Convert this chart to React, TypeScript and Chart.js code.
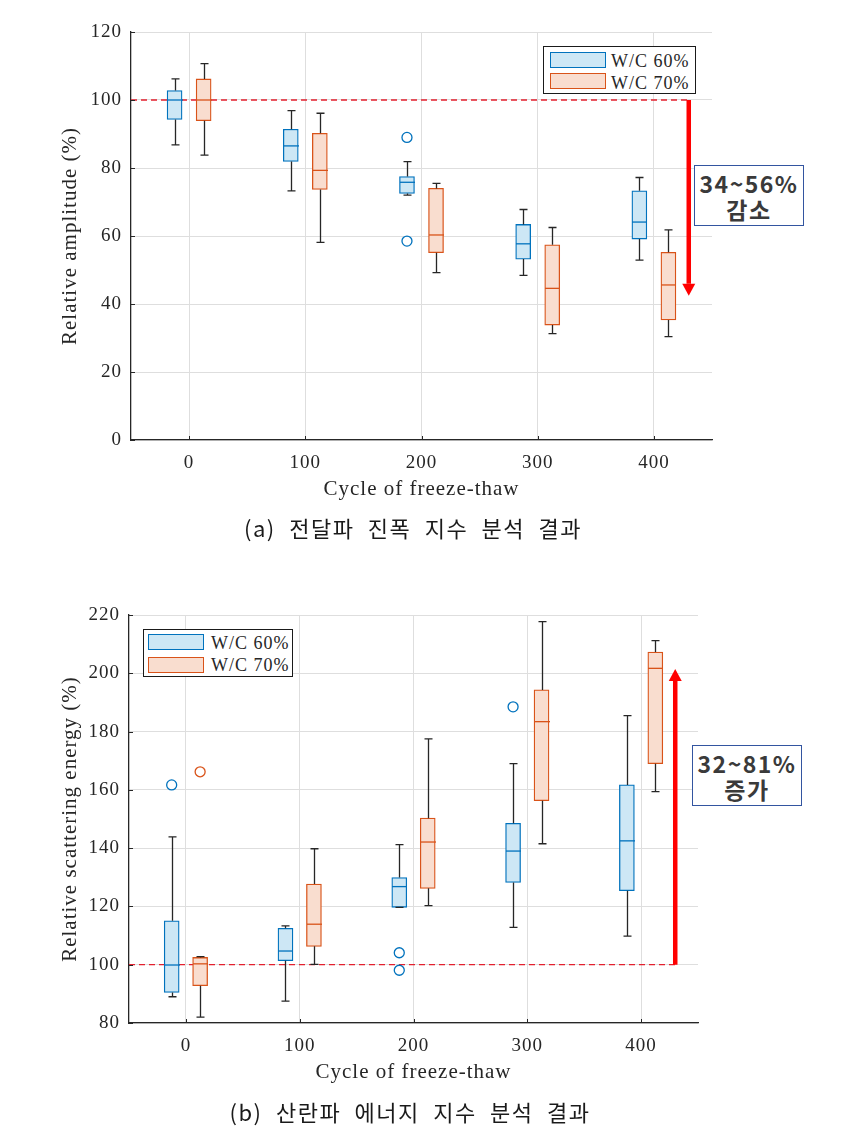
import React, { useEffect, useRef } from "react";
import { Chart, registerables } from "chart.js";

Chart.register(...registerables);
Chart.defaults.font.family = '"Liberation Serif", "Times New Roman", serif';
Chart.defaults.color = "#262626";

// ---------- shared ----------
const cycles = [0, 100, 200, 300, 400];
const xTicks = [0, 100, 200, 300, 400];
const seriesLabels = ["W/C 60%", "W/C 70%"];
const seriesOffsets = [-12.5, 12.5];
const refValue = 100;
const refLineX = [-50, 430];
const arrowX = 430;
const xTitle = "Cycle of freeze-thaw";

// ---------- (a) relative amplitude ----------
const ampYTicks = [0, 20, 40, 60, 80, 100, 120];
const amp60Min = [86.8, 73.3, 72.0, 48.4, 52.9];
const amp60Q1 = [94.3, 81.9, 72.5, 53.2, 59.1];
const amp60Med = [100.0, 86.5, 75.8, 57.7, 64.1];
const amp60Q3 = [102.8, 91.4, 77.5, 63.4, 73.3];
const amp60Max = [106.2, 96.9, 81.9, 67.8, 77.2];
const amp60Outliers = [[], [], [89.0, 58.5], [], []];
const amp70Min = [83.8, 58.1, 49.2, 31.3, 30.4];
const amp70Q1 = [93.9, 73.7, 55.1, 33.8, 35.3];
const amp70Med = [100.0, 79.3, 60.3, 44.6, 45.6];
const amp70Q3 = [106.2, 90.2, 74.0, 57.4, 55.2];
const amp70Max = [110.7, 96.1, 75.5, 62.5, 61.8];
const amp70Outliers = [[], [], [], [], []];
const ampArrowEnd = 42.4;
const ampNote = ["34~56%", "감소"];
const ampCaption = "(a) 전달파 진폭 지수 분석 결과";

// ---------- (b) relative scattering energy ----------
const engYTicks = [80, 100, 120, 140, 160, 180, 200, 220];
const eng60Min = [89.0, 87.5, 119.7, 112.8, 109.8];
const eng60Q1 = [90.5, 101.4, 119.7, 128.2, 125.4];
const eng60Med = [99.9, 104.7, 126.8, 139.0, 142.5];
const eng60Q3 = [115.1, 112.5, 129.9, 148.5, 161.7];
const eng60Max = [143.9, 113.3, 141.2, 169.0, 185.5];
const eng60Outliers = [[161.7], [], [104.1, 98.1], [188.5], []];
const eng70Min = [82.0, 100.1, 120.3, 141.5, 159.4];
const eng70Q1 = [92.8, 106.3, 126.2, 156.3, 169.0];
const eng70Med = [100.3, 113.9, 142.1, 183.4, 201.7];
const eng70Q3 = [102.5, 127.7, 150.3, 194.3, 207.3];
const eng70Max = [102.8, 139.8, 177.5, 217.7, 211.2];
const eng70Outliers = [[166.2], [], [], [], []];
const engArrowEnd = 201.5;
const engNote = ["32~81%", "증가"];
const engCaption = "(b) 산란파 에너지 지수 분석 결과";

// ---------- styles ----------
const EDGE = ["#0072BD", "#D95319"];
const FILL = ["#cde7f5", "#f9ddcf"];
const AXIS = "#262626";
const GRID = "#dedede";
const W = 848;

type Box = { min: number[]; q1: number[]; med: number[]; q3: number[]; max: number[]; outliers: number[][] };

type Panel = {
  boxes: Box[];
  yMin: number;
  yMax: number;
  yTicks: number[];
  yTitle: string;
  arrowEnd: number;
  height: number;
  area: { left: number; right: number; top: number; bottom: number };
  yTitleCenterX: number;
  xTitleCenterY: number;
};

function buildChart(canvas: HTMLCanvasElement, p: Panel) {
  const titleFont = { size: 21, lineHeight: 1.2 };
  const half = (21 * 1.2) / 2;
  const extras = {
    id: "boxExtras",
    beforeDraw(chart: any) {
      chart.ctx.letterSpacing = "1px";
    },
    afterDatasetsDraw(chart: any) {
      const { ctx } = chart;
      const x = chart.scales.x;
      const y = chart.scales.y;
      ctx.save();
      ctx.letterSpacing = "0px";
      p.boxes.forEach((b, s) => {
        cycles.forEach((c, i) => {
          const cx = Math.round(x.getPixelForValue(c + seriesOffsets[s])) + 0.5;
          const yMin = y.getPixelForValue(b.min[i]);
          const yQ1 = y.getPixelForValue(b.q1[i]);
          const yMed = y.getPixelForValue(b.med[i]);
          const yQ3 = y.getPixelForValue(b.q3[i]);
          const yMax = y.getPixelForValue(b.max[i]);
          ctx.strokeStyle = AXIS;
          ctx.lineWidth = 1.3;
          ctx.beginPath();
          ctx.moveTo(cx, yQ1);
          ctx.lineTo(cx, yMin);
          ctx.moveTo(cx - 4, yMin);
          ctx.lineTo(cx + 4, yMin);
          ctx.moveTo(cx, yQ3);
          ctx.lineTo(cx, yMax);
          ctx.moveTo(cx - 4, yMax);
          ctx.lineTo(cx + 4, yMax);
          ctx.stroke();
          ctx.strokeStyle = EDGE[s];
          ctx.beginPath();
          ctx.moveTo(cx - 7.5, yMed);
          ctx.lineTo(cx + 7.5, yMed);
          ctx.stroke();
        });
      });
      ctx.restore();
    },
    afterDraw(chart: any) {
      const { ctx, chartArea } = chart;
      const x = chart.scales.x;
      const y = chart.scales.y;
      ctx.save();
      // inward tick marks
      ctx.strokeStyle = AXIS;
      ctx.lineWidth = 1;
      ctx.beginPath();
      xTicks.forEach((v) => {
        const px = Math.round(x.getPixelForValue(v)) + 0.5;
        ctx.moveTo(px, chartArea.bottom);
        ctx.lineTo(px, chartArea.bottom - 4);
      });
      p.yTicks.forEach((v) => {
        const py = Math.round(y.getPixelForValue(v)) + 0.5;
        ctx.moveTo(chartArea.left, py);
        ctx.lineTo(chartArea.left + 4, py);
      });
      ctx.stroke();
      // red arrow
      const ax = x.getPixelForValue(arrowX);
      const y0 = y.getPixelForValue(refValue);
      const y1 = y.getPixelForValue(p.arrowEnd);
      const dir = y1 > y0 ? 1 : -1;
      const headLen = 12;
      ctx.strokeStyle = "#ff0000";
      ctx.fillStyle = "#ff0000";
      ctx.lineWidth = 4.5;
      ctx.beginPath();
      ctx.moveTo(ax, y0);
      ctx.lineTo(ax, y1 - dir * headLen);
      ctx.stroke();
      ctx.beginPath();
      ctx.moveTo(ax - 6.5, y1 - dir * headLen);
      ctx.lineTo(ax + 6.5, y1 - dir * headLen);
      ctx.lineTo(ax, y1);
      ctx.closePath();
      ctx.fill();
      ctx.restore();
    },
  };

  const barSets = p.boxes.map((b, s) => ({
    type: "bar" as const,
    label: seriesLabels[s],
    data: cycles.map((c, i) => ({ x: c + seriesOffsets[s], y: [b.q1[i], b.q3[i]] })),
    backgroundColor: FILL[s],
    borderColor: EDGE[s],
    borderWidth: 1.3,
    borderSkipped: false,
    grouped: false,
    maxBarThickness: 15,
    barPercentage: 1,
    categoryPercentage: 1,
    order: 2,
  }));
  const outlierSets = p.boxes.map((b, s) => ({
    type: "scatter" as const,
    label: seriesLabels[s] + " outliers",
    data: cycles.flatMap((c, i) => b.outliers[i].map((v) => ({ x: c + seriesOffsets[s], y: v }))),
    pointStyle: "circle",
    pointRadius: 5,
    borderColor: EDGE[s],
    backgroundColor: "rgba(255,255,255,0)",
    borderWidth: 1.3,
    order: 1,
  }));
  const refSet = {
    type: "line" as const,
    label: "reference",
    data: refLineX.map((v) => ({ x: v, y: refValue })),
    borderColor: "#e3202f",
    borderWidth: 1.3,
    borderDash: [6, 4],
    pointRadius: 0,
    order: 3,
  };

  return new Chart(canvas, {
    type: "bar",
    data: { datasets: [...barSets, ...outlierSets, refSet] as any },
    options: {
      responsive: false,
      animation: false,
      devicePixelRatio: 1,
      layout: { padding: { left: 0, right: W - p.area.right, top: p.area.top, bottom: 0 } },
      plugins: { legend: { display: false }, tooltip: { enabled: false } },
      scales: {
        x: {
          type: "linear",
          min: -50,
          max: 450,
          offset: false,
          afterBuildTicks: (a: any) => {
            a.ticks = xTicks.map((v) => ({ value: v }));
          },
          afterFit: (s: any) => {
            s.height = p.height - p.area.bottom;
          },
          grid: { color: GRID, lineWidth: 1, drawTicks: false, offset: false },
          border: { color: AXIS, width: 1.3 },
          ticks: { padding: 12, font: { size: 19 }, color: AXIS, maxRotation: 0 },
          title: {
            display: true,
            text: xTitle,
            font: titleFont,
            color: AXIS,
            padding: { top: 0, bottom: p.height - p.xTitleCenterY - half },
          },
        },
        y: {
          type: "linear",
          min: p.yMin,
          max: p.yMax,
          afterBuildTicks: (a: any) => {
            a.ticks = p.yTicks.map((v) => ({ value: v }));
          },
          afterFit: (s: any) => {
            s.width = p.area.left;
          },
          grid: { color: GRID, lineWidth: 1, drawTicks: false },
          border: { color: AXIS, width: 1.3 },
          ticks: { padding: 9, font: { size: 19 }, color: AXIS },
          title: {
            display: true,
            text: p.yTitle,
            font: titleFont,
            color: AXIS,
            padding: { top: p.yTitleCenterX - half, bottom: 0 },
          },
        },
      },
    } as any,
    plugins: [extras as any],
  });
}

const panelA: Panel = {
  boxes: [
    { min: amp60Min, q1: amp60Q1, med: amp60Med, q3: amp60Q3, max: amp60Max, outliers: amp60Outliers },
    { min: amp70Min, q1: amp70Q1, med: amp70Med, q3: amp70Q3, max: amp70Max, outliers: amp70Outliers },
  ],
  yMin: 0,
  yMax: 120,
  yTicks: ampYTicks,
  yTitle: "Relative amplitude (%)",
  arrowEnd: ampArrowEnd,
  height: 560,
  area: { left: 131, right: 712, top: 32, bottom: 440 },
  yTitleCenterX: 70,
  xTitleCenterY: 489,
};

const panelB: Panel = {
  boxes: [
    { min: eng60Min, q1: eng60Q1, med: eng60Med, q3: eng60Q3, max: eng60Max, outliers: eng60Outliers },
    { min: eng70Min, q1: eng70Q1, med: eng70Med, q3: eng70Q3, max: eng70Max, outliers: eng70Outliers },
  ],
  yMin: 80,
  yMax: 220,
  yTicks: engYTicks,
  yTitle: "Relative scattering energy (%)",
  arrowEnd: engArrowEnd,
  height: 578,
  area: { left: 129, right: 698, top: 55, bottom: 463 },
  yTitleCenterX: 70,
  xTitleCenterY: 512,
};

function ChartCanvas({ panel, top }: { panel: Panel; top: number }) {
  const ref = useRef<HTMLCanvasElement | null>(null);
  useEffect(() => {
    if (!ref.current) return;
    const chart = buildChart(ref.current, panel);
    return () => chart.destroy();
  }, [panel]);
  return (
    <canvas
      ref={ref}
      width={W}
      height={panel.height}
      style={{ position: "absolute", left: 0, top, width: W, height: panel.height }}
    />
  );
}

function Legend({ left, top, width, patchLeft, patchTops, textLeft, textCenters }: any) {
  return (
    <div
      style={{
        position: "absolute",
        left,
        top,
        width,
        height: 48,
        boxSizing: "border-box",
        border: "1px solid #1a1a1a",
        background: "#fff",
      }}
    >
      {seriesLabels.map((lab, s) => (
        <React.Fragment key={lab}>
          <div
            style={{
              position: "absolute",
              left: patchLeft,
              top: patchTops[s],
              width: 56,
              height: 16,
              boxSizing: "border-box",
              border: `1.3px solid ${EDGE[s]}`,
              background: FILL[s],
            }}
          />
          <div
            style={{
              position: "absolute",
              left: textLeft,
              top: textCenters[s] - 11,
              height: 22,
              lineHeight: "22px",
              fontFamily: '"Liberation Serif", "Times New Roman", serif',
              fontSize: 18,
              letterSpacing: "1px",
              color: "#262626",
              whiteSpace: "nowrap",
            }}
          >
            {lab}
          </div>
        </React.Fragment>
      ))}
    </div>
  );
}

function Note({ left, top, lines }: { left: number; top: number; lines: string[] }) {
  return (
    <div
      style={{
        position: "absolute",
        left,
        top,
        width: 110,
        height: 61,
        boxSizing: "border-box",
        border: "1.5px solid #3355a0",
        background: "#fff",
        display: "flex",
        flexDirection: "column",
        alignItems: "center",
        justifyContent: "center",
        fontFamily: '"Noto Sans CJK KR", "Noto Sans", sans-serif',
        fontWeight: 700,
        fontSize: 23,
        lineHeight: "26px",
        letterSpacing: "1.5px",
        color: "#3a3a3a",
      }}
    >
      {lines.map((l) => (
        <div key={l}>{l}</div>
      ))}
    </div>
  );
}

function Caption({ text, centerX, centerY }: { text: string; centerX: number; centerY: number }) {
  return (
    <div
      style={{
        position: "absolute",
        left: centerX - 300,
        width: 600,
        top: centerY - 15,
        height: 30,
        lineHeight: "30px",
        textAlign: "center",
        fontFamily: '"Noto Sans CJK KR", sans-serif',
        fontSize: 22,
        fontWeight: 400,
        letterSpacing: "1.5px",
        wordSpacing: "7px",
        color: "#1a1a1a",
        whiteSpace: "pre",
      }}
    >
      {text}
    </div>
  );
}

export default function App() {
  return (
    <div
      style={{
        position: "absolute",
        left: 0,
        top: 0,
        width: W,
        height: 1138,
        background: "#fff",
        overflow: "hidden",
      }}
    >
      <ChartCanvas panel={panelA} top={0} />
      <ChartCanvas panel={panelB} top={560} />
      <Legend left={543} top={46} width={153} patchLeft={6} patchTops={[5, 26]} textLeft={67} textCenters={[14, 36]} />
      <Legend left={143} top={629} width={150} patchLeft={4} patchTops={[4, 27]} textLeft={67} textCenters={[13, 35]} />
      <Note left={694} top={165} lines={ampNote} />
      <Note left={692} top={745} lines={engNote} />
      <Caption text={ampCaption} centerX={413} centerY={527} />
      <Caption text={engCaption} centerX={410} centerY={1111} />
    </div>
  );
}
